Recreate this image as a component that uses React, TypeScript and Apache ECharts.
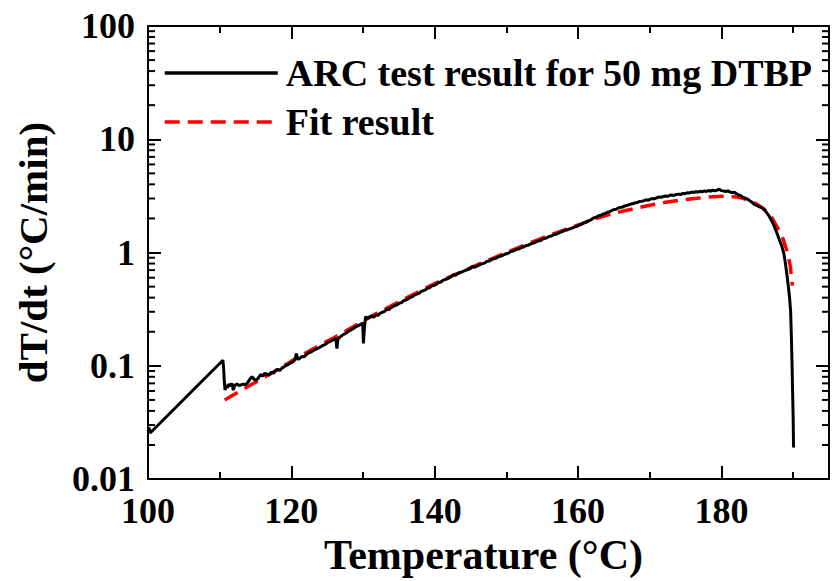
import React, { useEffect, useRef } from "react";
import * as echarts from "echarts";

// ---- data ----
const xTickValues = [100, 120, 140, 160, 180];
const yMinorTicks = [
  0.02, 0.03, 0.04, 0.05, 0.06, 0.07, 0.08, 0.09,
  0.2, 0.3, 0.4, 0.5, 0.6, 0.7, 0.8, 0.9,
  2, 3, 4, 5, 6, 7, 8, 9,
  20, 30, 40, 50, 60, 70, 80, 90,
];

const arcName = "ARC test result for 50 mg DTBP";
const fitName = "Fit result";

const arcData: [number, number][] = [
  [100.0, 0.0265], [100.15, 0.0285], [100.3, 0.0255], [110.45, 0.112],
  [110.55, 0.095], [110.65, 0.072], [110.75, 0.061], [110.9, 0.068],
  [111.1, 0.064], [111.3, 0.069], [111.5, 0.066], [111.7, 0.07],
  [111.9, 0.061], [112.1, 0.067], [112.4, 0.069], [112.7, 0.067],
  [113.0, 0.068], [113.3, 0.069], [113.6, 0.068], [113.9, 0.071],
  [114.2, 0.076], [114.5, 0.08], [114.8, 0.076], [115.1, 0.075],
  [115.4, 0.078], [115.7, 0.084], [116.0, 0.081], [116.3, 0.086],
  [116.6, 0.084], [116.9, 0.083], [117.2, 0.088], [117.5, 0.086],
  [117.8, 0.091], [118.1, 0.093], [118.4, 0.091], [118.7, 0.096],
  [119.0, 0.098], [119.3, 0.101], [119.6, 0.103], [119.9, 0.106],
  [120.2, 0.108], [120.5, 0.113], [120.7, 0.128], [120.9, 0.114],
  [121.2, 0.117], [121.5, 0.121], [121.8, 0.12], [122.1, 0.126],
  [122.4, 0.13], [122.7, 0.132], [123.0, 0.136], [123.3, 0.139],
  [123.6, 0.142], [123.9, 0.145], [124.2, 0.149], [124.5, 0.152],
  [124.8, 0.156], [125.1, 0.161], [125.4, 0.164], [125.7, 0.168],
  [126.0, 0.171], [126.2, 0.175], [126.35, 0.142], [126.5, 0.172],
  [126.8, 0.18], [127.1, 0.186], [127.4, 0.191], [127.7, 0.196],
  [128.0, 0.203], [128.3, 0.207], [128.6, 0.213], [128.9, 0.219],
  [129.2, 0.224], [129.5, 0.229], [129.8, 0.235], [129.95, 0.238],
  [130.05, 0.158], [130.2, 0.22], [130.35, 0.272], [130.6, 0.262],
  [130.9, 0.27], [131.2, 0.276], [131.5, 0.268], [131.8, 0.281],
  [132.1, 0.279], [132.4, 0.292], [132.7, 0.297], [133.0, 0.302],
  [133.3, 0.316], [133.6, 0.314], [133.9, 0.326], [134.2, 0.336],
  [134.5, 0.34], [134.8, 0.347], [135.1, 0.358], [135.4, 0.362],
  [135.7, 0.378], [136.0, 0.381], [136.3, 0.392], [136.6, 0.402],
  [136.9, 0.408], [137.2, 0.423], [137.5, 0.43], [137.8, 0.437],
  [138.1, 0.454], [138.4, 0.46], [138.7, 0.469], [139.0, 0.484],
  [139.3, 0.489], [139.6, 0.508], [139.9, 0.512], [140.2, 0.525],
  [140.5, 0.541], [140.8, 0.547], [141.1, 0.566], [141.4, 0.578],
  [141.7, 0.584], [142.0, 0.598], [142.3, 0.612], [142.6, 0.637],
  [142.9, 0.631], [143.2, 0.652], [143.5, 0.664], [143.8, 0.676],
  [144.1, 0.69], [144.4, 0.701], [144.7, 0.712], [145.0, 0.725],
  [145.3, 0.76], [145.5, 0.738], [145.8, 0.752], [146.1, 0.771],
  [146.4, 0.788], [146.7, 0.799], [147.0, 0.812], [147.3, 0.836],
  [147.6, 0.842], [147.9, 0.866], [148.2, 0.88], [148.5, 0.889],
  [148.8, 0.912], [149.1, 0.928], [149.4, 0.937], [149.7, 0.962],
  [150.0, 0.975], [150.3, 0.988], [150.6, 1.02], [150.9, 1.03],
  [151.2, 1.05], [151.5, 1.07], [151.8, 1.08], [152.1, 1.11],
  [152.4, 1.12], [152.7, 1.15], [153.0, 1.16], [153.3, 1.18],
  [153.6, 1.21], [153.9, 1.22], [154.2, 1.25], [154.5, 1.27],
  [154.8, 1.28], [155.1, 1.32], [155.4, 1.33], [155.7, 1.36],
  [156.0, 1.39], [156.3, 1.4], [156.6, 1.44], [156.9, 1.45],
  [157.2, 1.48], [157.5, 1.51], [157.8, 1.53], [158.1, 1.57],
  [158.4, 1.58], [158.7, 1.61], [159.0, 1.63], [159.3, 1.66],
  [159.6, 1.69], [159.9, 1.71], [160.2, 1.76], [160.5, 1.78],
  [160.8, 1.83], [161.1, 1.85], [161.4, 1.9], [161.7, 1.93],
  [162.0, 1.99], [162.3, 2.03], [162.6, 2.06], [162.9, 2.12],
  [163.2, 2.13], [163.5, 2.19], [163.8, 2.22], [164.1, 2.27],
  [164.4, 2.29], [164.7, 2.35], [165.0, 2.4], [165.3, 2.41],
  [165.6, 2.47], [165.9, 2.5], [166.2, 2.52], [166.5, 2.58],
  [166.8, 2.6], [167.1, 2.65], [167.4, 2.68], [167.7, 2.71],
  [168.0, 2.75], [168.3, 2.77], [168.6, 2.83], [168.9, 2.84],
  [169.2, 2.87], [169.5, 2.92], [169.8, 2.9], [170.1, 2.96],
  [170.4, 3.0], [170.7, 2.99], [171.0, 3.05], [171.3, 3.09],
  [171.6, 3.07], [171.9, 3.13], [172.2, 3.15], [172.5, 3.14],
  [172.8, 3.2], [173.1, 3.22], [173.4, 3.19], [173.7, 3.26],
  [174.0, 3.28], [174.3, 3.25], [174.6, 3.33], [174.9, 3.31],
  [175.2, 3.37], [175.5, 3.35], [175.8, 3.42], [176.1, 3.38],
  [176.4, 3.45], [176.7, 3.41], [177.0, 3.47], [177.3, 3.44],
  [177.6, 3.5], [177.9, 3.46], [178.2, 3.53], [178.5, 3.48],
  [178.8, 3.55], [179.1, 3.5], [179.4, 3.56], [179.7, 3.62],
  [180.0, 3.52], [180.3, 3.49], [180.6, 3.46], [180.9, 3.5],
  [181.2, 3.42], [181.5, 3.38], [181.8, 3.41], [182.1, 3.3],
  [182.4, 3.22], [182.7, 3.18], [183.0, 3.07], [183.3, 3.02],
  [183.6, 2.97], [183.9, 2.88], [184.2, 2.8], [184.5, 2.68],
  [184.8, 2.62], [185.1, 2.57], [185.4, 2.52], [185.7, 2.48],
  [186.0, 2.38], [186.3, 2.25], [186.6, 2.12], [186.9, 1.96],
  [187.2, 1.8], [187.5, 1.62], [187.8, 1.45], [188.1, 1.28],
  [188.4, 1.15], [188.7, 0.98], [188.9, 0.82], [189.1, 0.66],
  [189.3, 0.52], [189.5, 0.4], [189.65, 0.3], [189.75, 0.18],
  [189.85, 0.1], [189.92, 0.06], [190.0, 0.035], [190.05, 0.019],
];

const fitData: [number, number][] = [
  [110.7, 0.05], [112, 0.0558], [114, 0.0659], [116, 0.0778], [118, 0.0918],
  [120, 0.11], [122, 0.13], [124, 0.153], [126, 0.178], [128, 0.21],
  [130, 0.248], [132, 0.292], [134, 0.341], [136, 0.397], [138, 0.46],
  [140, 0.531], [142, 0.607], [144, 0.69], [146, 0.782], [148, 0.885],
  [150, 1.0], [152, 1.13], [154, 1.27], [156, 1.42], [158, 1.58],
  [160, 1.75], [162, 1.95], [164, 2.13], [166, 2.3], [168, 2.46],
  [170, 2.62], [172, 2.76], [174, 2.88], [176, 2.99], [178, 3.08],
  [180, 3.14], [181, 3.14], [182, 3.1], [183, 3.01], [184, 2.85],
  [185, 2.66], [186, 2.4], [187, 2.04], [188, 1.58], [188.6, 1.32],
  [189.2, 1.0], [189.6, 0.76], [189.9, 0.51],
];

const X_MIN = 100;
const X_MAX = 195;
const Y_MIN = 0.01;
const Y_MAX = 100;

const FONT = "'Liberation Serif', 'Times New Roman', serif";

export default function App() {
  const ref = useRef<HTMLDivElement>(null);

  useEffect(() => {
    if (!ref.current) return;
    const chart = echarts.init(ref.current, null, { renderer: "svg" });

    const axisLine = { show: true, lineStyle: { color: "#000", width: 2 } };
    const xBase = {
      type: "value" as const,
      min: X_MIN,
      max: X_MAX,
      splitLine: { show: false },
      gridIndex: 0,
    };

    const option: any = {
      animation: false,
      backgroundColor: "#fff",
      grid: { left: 148, top: 26, width: 691, height: 460, containLabel: false },
      legend: {
        data: [arcName, fitName],
        orient: "vertical",
        left: 163,
        top: 54,
        padding: 0,
        itemWidth: 113,
        itemHeight: 14,
        itemGap: 11,
        selectedMode: false,
        itemStyle: { opacity: 0, borderWidth: 0 },
        lineStyle: { width: 3.5 },
        textStyle: {
          fontFamily: FONT,
          fontWeight: "bold",
          fontSize: 38,
          color: "#000",
          padding: [0, 0, 0, 3],
        },
      },
      xAxis: [
        {
          ...xBase,
          position: "bottom",
          interval: 20,
          axisLine,
          axisTick: { show: true, inside: true, length: 13, lineStyle: { color: "#000", width: 2 } },
          axisLabel: {
            show: true,
            margin: 14,
            fontFamily: FONT,
            fontWeight: "bold",
            fontSize: 36,
            color: "#000",
            formatter: (v: number) => (xTickValues.includes(v) ? String(v) : ""),
          },
          name: "Temperature (°C)",
          nameLocation: "middle",
          nameGap: 54,
          nameTextStyle: {
            fontFamily: FONT,
            fontWeight: "bold",
            fontSize: 42,
            color: "#000",
            padding: [0, 10, 0, 0],
          },
        },
        {
          ...xBase,
          position: "bottom",
          interval: 10,
          axisLine: { show: false },
          axisTick: { show: true, inside: true, length: 7, lineStyle: { color: "#000", width: 2 } },
          axisLabel: { show: false },
        },
        {
          ...xBase,
          position: "top",
          interval: 20,
          axisLine,
          axisTick: { show: true, inside: true, length: 13, lineStyle: { color: "#000", width: 2 } },
          axisLabel: { show: false },
        },
        {
          ...xBase,
          position: "top",
          interval: 10,
          axisLine: { show: false },
          axisTick: { show: true, inside: true, length: 7, lineStyle: { color: "#000", width: 2 } },
          axisLabel: { show: false },
        },
      ],
      yAxis: [
        {
          type: "log",
          logBase: 10,
          min: Y_MIN,
          max: Y_MAX,
          position: "left",
          axisLine,
          splitLine: { show: false },
          axisTick: { show: true, inside: true, length: 13, lineStyle: { color: "#000", width: 2 } },
          axisLabel: {
            show: true,
            margin: 13,
            fontFamily: FONT,
            fontWeight: "bold",
            fontSize: 36,
            color: "#000",
            formatter: (v: number) => String(v),
          },
          name: "dT/dt (°C/min)",
          nameLocation: "middle",
          nameGap: 95,
          nameTextStyle: { fontFamily: FONT, fontWeight: "bold", fontSize: 41, color: "#000" },
        },
        {
          type: "log",
          logBase: 10,
          min: Y_MIN,
          max: Y_MAX,
          position: "right",
          axisLine,
          splitLine: { show: false },
          axisTick: { show: true, inside: true, length: 13, lineStyle: { color: "#000", width: 2 } },
          axisLabel: { show: false },
        },
      ],
      series: [
        {
          name: fitName,
          type: "line",
          xAxisIndex: 0,
          yAxisIndex: 0,
          data: fitData,
          showSymbol: false,
          symbol: "none",
          smooth: false,
          lineStyle: { color: "#ff0000", width: 3.5, type: [15, 8] },
          itemStyle: { color: "#ff0000" },
          z: 3,
        },
        {
          name: arcName,
          type: "line",
          xAxisIndex: 0,
          yAxisIndex: 0,
          data: arcData,
          showSymbol: false,
          symbol: "none",
          smooth: false,
          lineStyle: { color: "#000", width: 3 },
          itemStyle: { color: "#000" },
          z: 4,
        },
        {
          name: "minorTicks",
          type: "custom",
          xAxisIndex: 0,
          yAxisIndex: 0,
          silent: true,
          clip: false,
          data: yMinorTicks.map((v) => [X_MIN, v]),
          encode: { x: 0, y: 1 },
          renderItem: (_params: any, api: any) => {
            const v = api.value(1);
            const pl = api.coord([X_MIN, v]);
            const pr = api.coord([X_MAX, v]);
            return {
              type: "group",
              children: [
                {
                  type: "line",
                  shape: { x1: pl[0], y1: pl[1], x2: pl[0] + 7, y2: pl[1] },
                  style: { stroke: "#000", lineWidth: 2 },
                },
                {
                  type: "line",
                  shape: { x1: pr[0], y1: pr[1], x2: pr[0] - 7, y2: pr[1] },
                  style: { stroke: "#000", lineWidth: 2 },
                },
              ],
            };
          },
          z: 5,
        },
      ],
    };

    chart.setOption(option);
    return () => chart.dispose();
  }, []);

  return (
    <div
      ref={ref}
      style={{ position: "fixed", left: 0, top: 0, width: 832, height: 581, background: "#fff" }}
    />
  );
}
